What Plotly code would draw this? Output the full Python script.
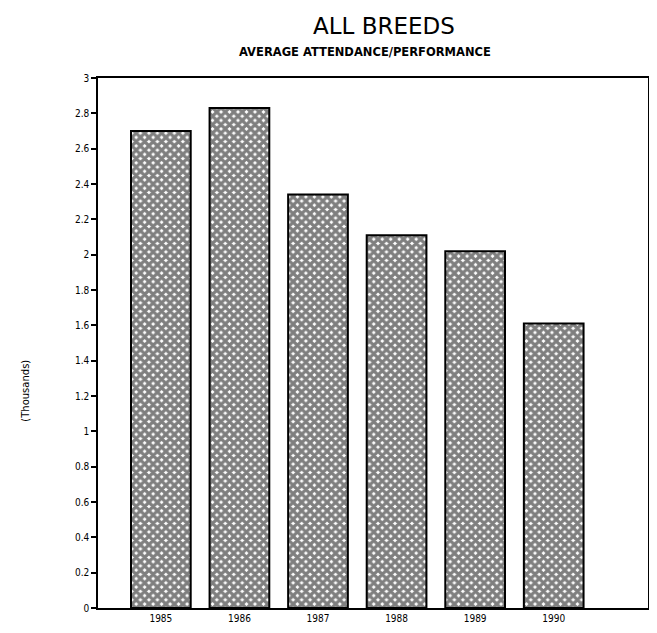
import plotly.graph_objects as go

years = ["1985", "1986", "1987", "1988", "1989", "1990"]
attendance = [2.70, 2.83, 2.34, 2.11, 2.02, 1.61]
y_ticks = [0, 0.2, 0.4, 0.6, 0.8, 1, 1.2, 1.4, 1.6, 1.8, 2, 2.2, 2.4, 2.6, 2.8, 3]
y_tick_text = ["0", "0.2", "0.4", "0.6", "0.8", "1", "1.2", "1.4", "1.6", "1.8", "2", "2.2", "2.4", "2.6", "2.8", "3"]

fig = go.Figure(go.Bar(
    x=years, y=attendance,
    marker=dict(
        color="white",
        line=dict(color="black", width=2),
        pattern=dict(shape="x", fgcolor="black", bgcolor="white", size=6, solidity=0.78),
    ),
    width=0.76,
))

fig.update_layout(
    width=657, height=633,
    paper_bgcolor="white", plot_bgcolor="white",
    margin=dict(l=90, r=17, t=70, b=33),
    font=dict(family="DejaVu Sans", color="black"),
    showlegend=False,
    annotations=[
        dict(text="ALL BREEDS", x=0.52, y=1.0, xref="paper", yref="paper",
             yshift=37, xanchor="center", yanchor="bottom", showarrow=False,
             font=dict(family="DejaVu Sans", size=23, color="black")),
        dict(text="<b>AVERAGE ATTENDANCE/PERFORMANCE</b>", x=0.485, y=1.0, xref="paper", yref="paper",
             yshift=17, xanchor="center", yanchor="bottom", showarrow=False,
             font=dict(family="DejaVu Sans", size=11.5, color="black")),
        dict(text="(Thousands)", x=0, y=0.41, xref="paper", yref="paper",
             xshift=-72, textangle=-90, xanchor="center", yanchor="middle", showarrow=False,
             font=dict(family="DejaVu Sans", size=10, color="black")),
    ],
)

fig.update_xaxes(
    type="category", range=[-0.8, 6.2],
    showline=True, linecolor="black", linewidth=1.5, mirror=True,
    ticks="", showgrid=False, zeroline=False,
    tickfont=dict(family="DejaVu Sans Condensed, DejaVu Sans", size=10),
)
fig.update_yaxes(
    range=[0, 3],
    tickvals=y_ticks, ticktext=y_tick_text,
    showline=True, linecolor="black", linewidth=1.5, mirror=True,
    ticks="outside", ticklen=5, tickwidth=1.5, tickcolor="black",
    showgrid=False, zeroline=False,
    tickfont=dict(family="DejaVu Sans Condensed, DejaVu Sans", size=10),
)

fig.write_html("out.html")
